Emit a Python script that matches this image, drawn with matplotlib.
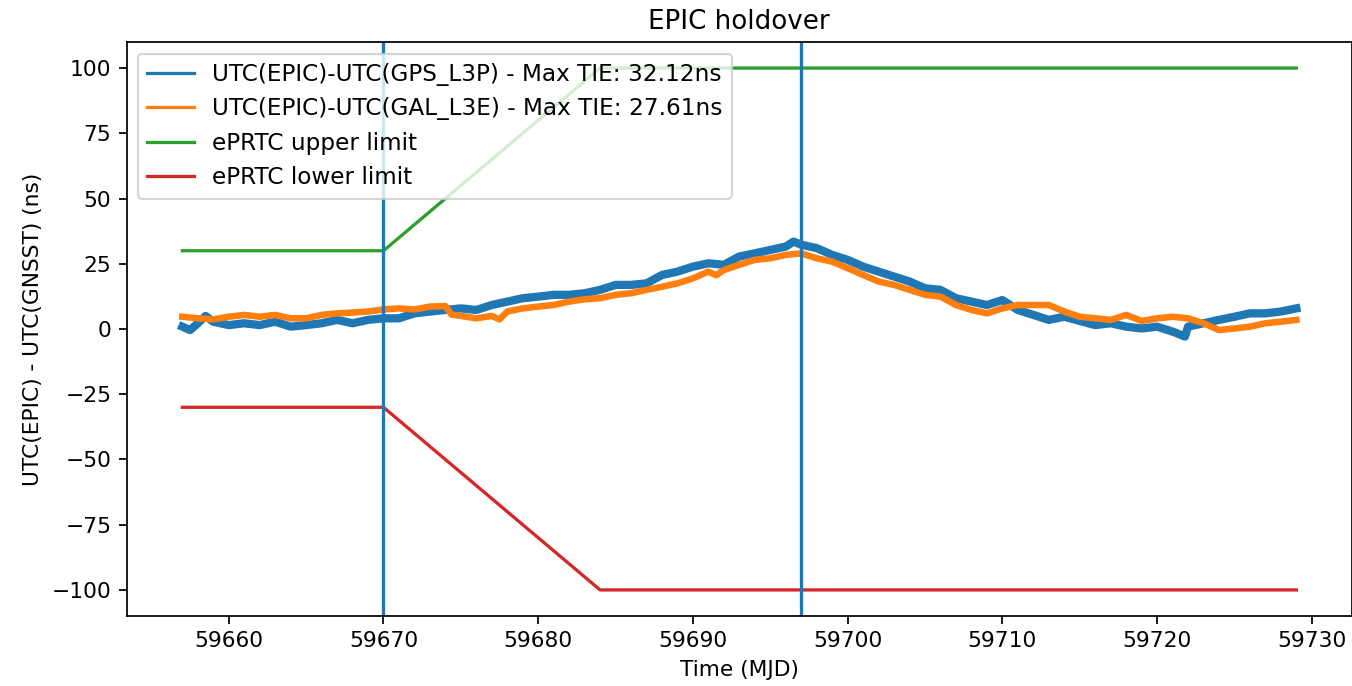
import matplotlib
matplotlib.use('Agg')
import matplotlib.pyplot as plt


gps_mjd = [59657, 59657.5, 59658, 59658.5, 59659, 59660, 59661, 59662, 59663, 59664,
           59665, 59666, 59667, 59668, 59669, 59670, 59671, 59672, 59673, 59674,
           59675, 59676, 59677, 59678, 59679, 59680, 59681, 59682, 59683, 59684,
           59685, 59686, 59687, 59688, 59689, 59690, 59691, 59692, 59693, 59694,
           59695, 59696, 59696.5, 59697, 59698, 59699, 59700, 59701, 59702, 59703,
           59704, 59705, 59706, 59707, 59708, 59709, 59710, 59711, 59712, 59713,
           59714, 59715, 59716, 59717, 59718, 59719, 59720, 59721, 59721.8, 59722,
           59723, 59724, 59725, 59726, 59727, 59728, 59729]
gps_tie = [0.9, -0.4, 2.2, 5.0, 2.8, 1.5, 2.2, 1.5, 2.8, 0.9,
           1.5, 2.2, 3.5, 2.2, 3.5, 4.1, 4.1, 6.0, 6.7, 7.3,
           7.9, 7.3, 9.2, 10.5, 11.8, 12.4, 13.1, 13.1, 13.7, 15.0,
           16.9, 16.9, 17.5, 20.7, 22.0, 23.9, 25.2, 24.6, 27.8, 29.0,
           30.3, 31.6, 33.5, 32.3, 31.0, 28.4, 26.5, 23.9, 22.0, 20.1,
           18.2, 15.6, 15.0, 11.8, 10.5, 9.2, 11.1, 7.3, 5.4, 3.5,
           4.7, 3.1, 1.5, 2.2, 0.9, 0.2, 0.9, -1.0, -2.9, 0.9,
           2.2, 3.5, 4.7, 6.0, 6.0, 6.7, 7.9]

gal_mjd = [59657, 59658, 59659, 59660, 59661, 59662, 59663, 59664, 59665, 59666,
           59667, 59668, 59669, 59670, 59671, 59672, 59673, 59674, 59674.4, 59675,
           59676, 59677, 59677.5, 59678, 59679, 59680, 59681, 59682, 59683, 59684,
           59685, 59686, 59687, 59688, 59689, 59690, 59691, 59691.5, 59692, 59693,
           59694, 59695, 59696, 59697, 59698, 59699, 59700, 59701, 59702, 59703,
           59704, 59705, 59706, 59707, 59708, 59709, 59710, 59711, 59712, 59713,
           59714, 59715, 59716, 59717, 59718, 59719, 59720, 59721, 59722, 59723,
           59724, 59725, 59726, 59727, 59728, 59729]
gal_tie = [4.7, 4.1, 3.7, 4.7, 5.4, 4.7, 5.4, 4.1, 4.1, 5.4,
           6.0, 6.3, 6.7, 7.5, 7.9, 7.5, 8.6, 8.8, 5.5, 5.0,
           4.1, 5.0, 3.7, 6.7, 7.9, 8.6, 9.2, 10.5, 11.4, 11.8,
           13.1, 13.7, 15.0, 16.2, 17.5, 19.4, 22.0, 20.6, 22.6, 24.6,
           26.5, 27.1, 28.4, 29.0, 27.1, 25.8, 23.3, 20.7, 18.2, 16.9,
           15.0, 13.1, 12.4, 9.2, 7.3, 6.0, 7.9, 9.2, 9.2, 9.2,
           6.7, 4.7, 4.1, 3.5, 5.4, 3.1, 4.1, 4.7, 4.1, 2.2,
           -0.4, 0.2, 0.9, 2.2, 2.8, 3.5]

gps_max_tie = 32.12
gal_max_tie = 27.61

limit_mjd = [59657, 59670, 59684, 59729]
upper_limit = [30, 30, 100, 100]
lower_limit = [-30, -30, -100, -100]

holdover_marks = [59670, 59697]

save_file_name = 'out.png'


def main():
    dpi = 157
    fig = plt.figure(figsize=(1353 / dpi, 686 / dpi), dpi=dpi)
    ax = fig.add_axes([0.0936, 0.102, 0.9057, 0.8368])

    # thick lines stand in for the dense noisy samples of the original
    ax.plot(gps_mjd, gps_tie, color='C0', linewidth=3.8,
            label=f'UTC(EPIC)-UTC(GPS_L3P) - Max TIE: {gps_max_tie:.2f}ns')
    ax.plot(gal_mjd, gal_tie, color='C1', linewidth=3.0,
            label=f'UTC(EPIC)-UTC(GAL_L3E) - Max TIE: {gal_max_tie:.2f}ns')
    ax.plot(limit_mjd, upper_limit, color='C2', label='ePRTC upper limit')
    ax.plot(limit_mjd, lower_limit, color='C3', label='ePRTC lower limit')

    for mark in holdover_marks:
        ax.axvline(mark, color='C0')

    ax.set_title('EPIC holdover')
    ax.set_xlabel('Time (MJD)')
    ax.set_ylabel('UTC(EPIC) - UTC(GNSST) (ns)')

    leg = ax.legend(loc='upper left', fontsize=10.6)
    for line in leg.get_lines():
        line.set_linewidth(1.5)

    fig.savefig(save_file_name, dpi=dpi)


if __name__ == "__main__":
    main()
